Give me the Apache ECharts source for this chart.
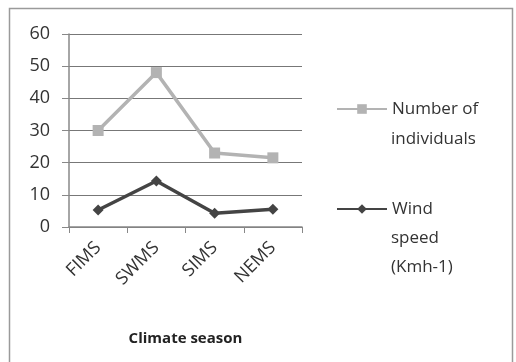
<!DOCTYPE html>
<html><head><meta charset="utf-8">
<script src="https://cdn.jsdelivr.net/npm/echarts@6/dist/echarts.min.js"></script>
<style>html,body{margin:0;padding:0;background:#fff}#c{width:516px;height:362px}</style>
</head><body><div id="c"></div>
<script>
const categories = ['FIMS','SWMS','SIMS','NEMS'];
const individuals = [30, 48, 23, 21.5];
const windSpeed = [5.3, 14.3, 4.3, 5.5];
const yTicks = [0,10,20,30,40,50,60];

const chart = echarts.init(document.getElementById('c'));
const font = '"Open Sans", "Noto Sans", sans-serif';
const legTxt = {fontFamily: font, fontSize: 17, fill: '#333'};
chart.setOption({
  animation: false,
  backgroundColor: '#fff',
  graphic: [
    {type:'rect', shape:{x:9.5,y:8.5,width:503,height:360}, style:{fill:'none', stroke:'#9a9a9a', lineWidth:1.5}, silent:true},
    {type:'text', left: 391, top: 131, style: Object.assign({text:'individuals'}, legTxt)},
    {type:'text', left: 391, top: 230, style: Object.assign({text:'speed'}, legTxt)},
    {type:'text', left: 391, top: 259, style: Object.assign({text:'(Kmh-1)'}, legTxt)}
  ],
  grid: {left: 69, right: 214, top: 34, bottom: 135},
  xAxis: {
    type: 'category', data: categories, boundaryGap: true,
    name: 'Climate season', nameLocation: 'middle', nameGap: 104,
    nameTextStyle: {fontFamily: font, fontSize: 15, fontWeight: 'bold', color: '#222'},
    axisLine: {lineStyle: {color: '#888', width: 1.5}},
    axisTick: {show: true, length: 6, lineStyle: {color: '#888'}},
    axisLabel: {rotate: 45, fontFamily: font, fontSize: 18, color: '#333', margin: 18}
  },
  yAxis: {
    type: 'value', min: 0, max: 60, interval: 10,
    axisLine: {show: true, lineStyle: {color: '#888', width: 1.5}},
    axisTick: {show: true, length: 7, lineStyle: {color: '#888'}},
    axisLabel: {fontFamily: font, fontSize: 18, color: '#333', margin: 19,
      formatter: v => yTicks.includes(v) ? String(v) : ''},
    splitLine: {lineStyle: {color: '#777', width: 1.2}}
  },
  legend: [
    {data: ['Number of individuals'], orient: 'vertical', left: 336, top: 98, padding: 0,
     itemWidth: 50, itemHeight: 12, itemGap: 0,
     formatter: () => 'Number of',
     textStyle: {fontFamily: font, fontSize: 17, color: '#333', lineHeight: 22}},
    {data: ['Wind speed (Kmh-1)'], orient: 'vertical', left: 336, top: 198, padding: 0,
     itemWidth: 50, itemHeight: 12, itemGap: 0,
     formatter: () => 'Wind',
     textStyle: {fontFamily: font, fontSize: 17, color: '#333', lineHeight: 22}}
  ],
  series: [
    {name: 'Number of individuals', type: 'line', data: individuals,
     symbol: 'rect', symbolSize: 11,
     lineStyle: {color: '#b3b3b3', width: 3.5},
     itemStyle: {color: '#b3b3b3'}},
    {name: 'Wind speed (Kmh-1)', type: 'line', data: windSpeed,
     symbol: 'diamond', symbolSize: 11,
     lineStyle: {color: '#444', width: 3.5},
     itemStyle: {color: '#444'}}
  ]
});
</script></body></html>
